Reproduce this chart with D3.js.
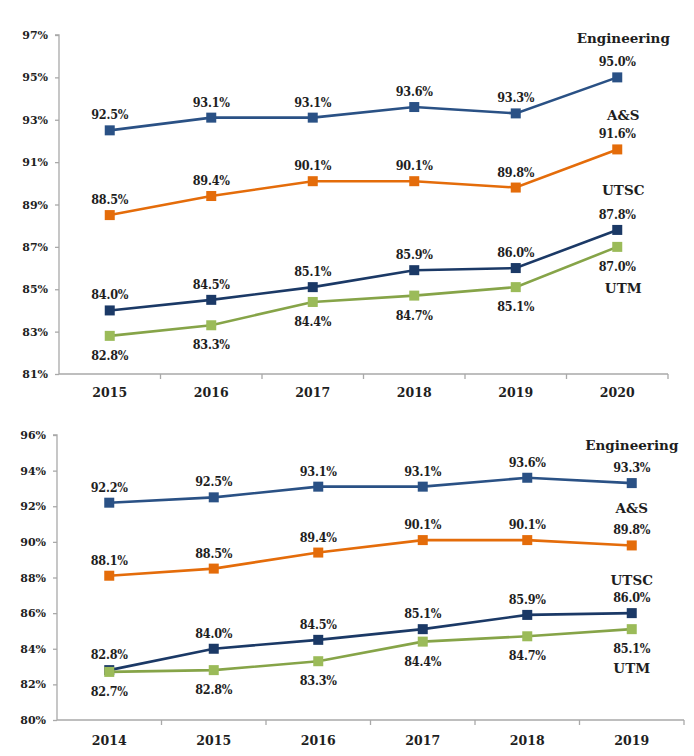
<!DOCTYPE html>
<html>
<head>
<meta charset="utf-8">
<script src="https://cdn.jsdelivr.net/npm/d3@7"></script>
<style>
  html, body { margin: 0; padding: 0; background: #ffffff; }
  svg { display: block; }
</style>
</head>
<body>
<svg id="chart" width="694" height="756"></svg>
<script>
// ---------- DATA ----------
const yearsTop = ["2015", "2016", "2017", "2018", "2019", "2020"];
const engineeringTop = [92.5, 93.1, 93.1, 93.6, 93.3, 95.0];
const asTop          = [88.5, 89.4, 90.1, 90.1, 89.8, 91.6];
const utscTop        = [84.0, 84.5, 85.1, 85.9, 86.0, 87.8];
const utmTop         = [82.8, 83.3, 84.4, 84.7, 85.1, 87.0];
const yTicksTop = [81, 83, 85, 87, 89, 91, 93, 95, 97];

const yearsBottom = ["2014", "2015", "2016", "2017", "2018", "2019"];
const engineeringBottom = [92.2, 92.5, 93.1, 93.1, 93.6, 93.3];
const asBottom          = [88.1, 88.5, 89.4, 90.1, 90.1, 89.8];
const utscBottom        = [82.8, 84.0, 84.5, 85.1, 85.9, 86.0];
const utmBottom         = [82.7, 82.8, 83.3, 84.4, 84.7, 85.1];
const yTicksBottom = [80, 82, 84, 86, 88, 90, 92, 94, 96];

const seriesNames = ["Engineering", "A&S", "UTSC", "UTM"];

// ---------- STYLE ----------
const colors = {"Engineering": "#2a5185", "A&S": "#e46c0a", "UTSC": "#1b3966", "UTM": "#9bbb59"};
const lineColors = {"Engineering": "#2a5185", "A&S": "#e46c0a", "UTSC": "#1b3966", "UTM": "#86a448"};
const labelBelow = {"Engineering": false, "A&S": false, "UTSC": false, "UTM": true};
const axisColor = "#a9a9a9";
const textColor = "#1e1e1e";
const serif = "'DejaVu Serif', 'Liberation Serif', serif";
const serifCond = "'DejaVu Serif Condensed', 'DejaVu Serif', serif";

const svg = d3.select("#chart");

function drawChart(cfg) {
  const g = svg.append("g");
  const x = d3.scaleBand().domain(cfg.years).range([cfg.left, cfg.right]);
  const y = d3.scaleLinear().domain([cfg.yTicks[0], cfg.yTicks[cfg.yTicks.length - 1]])
    .range([cfg.bottom, cfg.top]);

  // y axis
  const yAxis = g.append("g").attr("transform", `translate(${cfg.left},0)`)
    .call(d3.axisLeft(y).tickValues(cfg.yTicks).tickSize(4).tickPadding(7)
      .tickFormat(d => d + "%"));
  yAxis.select(".domain").attr("stroke", axisColor).attr("stroke-width", 1.3)
    .attr("d", `M-4,${y(cfg.yTicks[cfg.yTicks.length-1])}H0V${cfg.bottom}`);
  yAxis.selectAll(".tick line").attr("stroke", axisColor).attr("stroke-width", 1.3);
  yAxis.selectAll(".tick text").attr("fill", textColor)
    .style("font-family", serif).style("font-weight", "bold").style("font-size", "11px");

  // x axis with ticks at band boundaries
  const xAxis = g.append("g").attr("transform", `translate(0,${cfg.bottom})`);
  xAxis.append("line").attr("x1", cfg.left).attr("x2", cfg.right)
    .attr("stroke", axisColor).attr("stroke-width", 1.3);
  const bounds = cfg.years.map(d => x(d) + x.bandwidth());
  xAxis.selectAll("line.bt").data(bounds).enter().append("line").attr("class", "bt")
    .attr("x1", d => d).attr("x2", d => d).attr("y1", 0).attr("y2", 5)
    .attr("stroke", axisColor).attr("stroke-width", 1.3);
  xAxis.selectAll("text").data(cfg.years).enter().append("text")
    .attr("x", d => x(d) + x.bandwidth() / 2).attr("y", cfg.xLabelDy)
    .attr("text-anchor", "middle").attr("fill", textColor)
    .style("font-family", serif).style("font-weight", "bold").style("font-size", "12.5px")
    .text(d => d);

  const line = d3.line().x((d, i) => x(cfg.years[i]) + x.bandwidth() / 2).y(d => y(d));

  cfg.series.forEach(s => {
    const c = colors[s.name];
    g.append("path").datum(s.values).attr("d", line).attr("fill", "none")
      .attr("stroke", lineColors[s.name]).attr("stroke-width", 2.6);
    g.selectAll(null).data(s.values).enter().append("rect")
      .attr("x", (d, i) => x(cfg.years[i]) + x.bandwidth() / 2 - 5)
      .attr("y", d => y(d) - 5).attr("width", 10).attr("height", 10).attr("fill", c);
    g.selectAll(null).data(s.values).enter().append("text")
      .attr("x", (d, i) => x(cfg.years[i]) + x.bandwidth() / 2)
      .attr("y", d => y(d) + (labelBelow[s.name] ? 24 : -11))
      .attr("text-anchor", "middle").attr("fill", textColor)
      .style("font-family", serifCond).style("font-weight", "bold").style("font-size", "12.5px")
      .style("letter-spacing", "-0.2px")
      .text(d => d.toFixed(1) + "%");
    // series name
    const last = cfg.years[cfg.years.length - 1];
    g.append("text")
      .attr("x", x(last) + x.bandwidth() / 2 + cfg.nameDx)
      .attr("y", cfg.nameY[s.name])
      .attr("text-anchor", "middle").attr("fill", textColor)
      .style("font-family", serif).style("font-weight", "bold").style("font-size", "13.5px")
      .text(s.name);
  });
}

drawChart({
  years: yearsTop, yTicks: yTicksTop,
  left: 59, right: 668, top: 35, bottom: 374, xLabelDy: 23, nameDx: 6,
  series: [
    {name: seriesNames[0], values: engineeringTop},
    {name: seriesNames[1], values: asTop},
    {name: seriesNames[2], values: utscTop},
    {name: seriesNames[3], values: utmTop}
  ],
  nameY: {"Engineering": 43, "A&S": 120, "UTSC": 195, "UTM": 293}
});

drawChart({
  years: yearsBottom, yTicks: yTicksBottom,
  left: 57, right: 684, top: 435, bottom: 720, xLabelDy: 25, nameDx: 0,
  series: [
    {name: seriesNames[0], values: engineeringBottom},
    {name: seriesNames[1], values: asBottom},
    {name: seriesNames[2], values: utscBottom},
    {name: seriesNames[3], values: utmBottom}
  ],
  nameY: {"Engineering": 450, "A&S": 513, "UTSC": 585, "UTM": 673}
});
</script>
</body>
</html>
